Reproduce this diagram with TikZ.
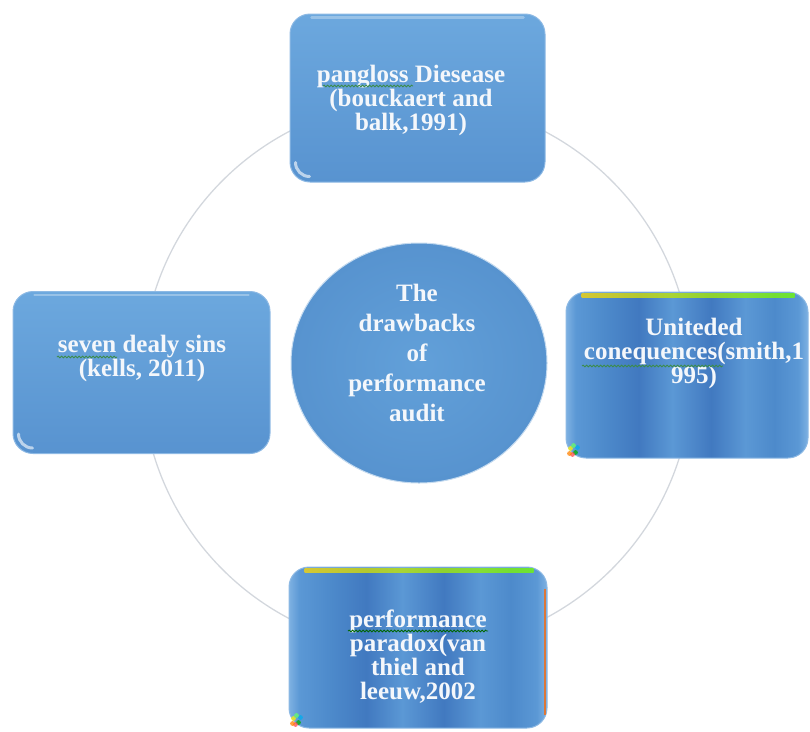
\documentclass[tikz,border=0pt]{standalone}
\usepackage{fontspec}
\setmainfont{Liberation Serif}
\usetikzlibrary{shapes.geometric,decorations.pathmorphing}
\definecolor{boxtop}{HTML}{6CA8DE}
\definecolor{boxbot}{HTML}{5893D0}
\definecolor{boxedge}{HTML}{8DB9E4}
\definecolor{ringc}{HTML}{D3D7DD}
\definecolor{sA}{HTML}{7EB1E2}
\definecolor{sB}{HTML}{5B98D5}
\definecolor{sC}{HTML}{4D8ACB}
\definecolor{sD}{HTML}{4179C0}
\definecolor{circin}{HTML}{62A0D9}
\definecolor{circout}{HTML}{5793CF}
\definecolor{circedge}{HTML}{C4DAEF}
\definecolor{txtc}{HTML}{F4F7FB}
\definecolor{squig}{HTML}{3C8C4A}
\pgfdeclarehorizontalshading{stripes}{100bp}{color(0bp)=(sA); color(25bp)=(sA); color(27bp)=(sB); color(33bp)=(sC); color(40bp)=(sD); color(47bp)=(sB); color(55bp)=(sD); color(62bp)=(sB); color(68bp)=(sC); color(73bp)=(sB); color(75bp)=(sA); color(100bp)=(sA)}
\tikzset{
  box/.style={rounded corners=20pt, draw=boxedge, line width=1pt, minimum width=#1, inner sep=0pt},
  plainbox/.style={box=#1, top color=boxtop, bottom color=boxbot},
  stripebox/.style={box=#1, shading=stripes},
  txt/.style={text=txtc, font=\bfseries\fontsize{25}{24}\selectfont, align=center, inner sep=0pt, anchor=north},
  ctxt/.style={text=txtc, font=\bfseries\fontsize{25}{30}\selectfont, align=center, inner sep=0pt, anchor=north},
  squiggle/.style={draw=squig, line width=0.8pt, decorate, decoration={snake, amplitude=0.9pt, segment length=3.5pt}},
  glint/.style={draw=white, line width=3pt, opacity=0.6, line cap=round},
  highlight/.style={draw=white, line width=2.5pt, opacity=0.3, line cap=round},
  topstrip/.style={left color=yellow!70!orange, right color=green!55!yellow, opacity=0.75},
}
\begin{document}
\begin{tikzpicture}[x=1pt,y=-1pt]
\useasboundingbox (0,0) rectangle (810,731);
% ring
\node[circle, draw=ringc, line width=1.3pt, minimum size=550pt, inner sep=0pt] (ring) at (417,375) {};
% boxes
\node[plainbox=255pt, minimum height=168pt] (top) at (417.5,98) {};
\node[plainbox=257pt, minimum height=162pt] (left) at (141.5,372.5) {};
\node[stripebox=242pt, minimum height=166pt] (right) at (687,375) {};
\node[stripebox=258pt, minimum height=161pt] (bottom) at (418,647.5) {};
% glints and highlights
\foreach \b in {top,left}{
  \draw[glint] ([xshift=6pt,yshift=20pt]\b.south west) arc[start angle=180, end angle=270, radius=14pt];
  \draw[highlight] ([xshift=22pt,yshift=-4pt]\b.north west) -- ([xshift=-22pt,yshift=-4pt]\b.north east);
}
% coloured edges on the two striped boxes
\shade[topstrip] ([xshift=16pt,yshift=-2pt]right.north west) rectangle ([xshift=-14pt,yshift=-6pt]right.north east);
\shade[topstrip] ([xshift=16pt,yshift=-2pt]bottom.north west) rectangle ([xshift=-14pt,yshift=-6pt]bottom.north east);
\draw[orange!80!red, line width=2pt, opacity=0.75] ([xshift=-3pt,yshift=-22pt]bottom.north east) -- ([xshift=-3pt,yshift=14pt]bottom.south east);
\foreach \c/\dx/\dy in {yellow/5/10, green!70!black/10/6, red!70/7/4, cyan/12/11, orange/4/5, green!60/8/13}{
  \fill[\c, opacity=0.75] ([xshift=\dx pt,yshift=\dy pt]right.south west) circle (2.4pt);
  \fill[\c, opacity=0.75] ([xshift=\dx pt,yshift=\dy pt]bottom.south west) circle (2.4pt);
}
% centre
\node[ellipse, draw=circedge, line width=1pt, inner color=circin, outer color=circout, minimum width=256pt, minimum height=240pt] (centre) at (419,363) {};
% texts
\node[txt] (ttop) at (411,65) {pangloss Diesease\\(bouckaert and\\balk,1991)};
\node[txt] (tleft) at (142,335) {seven dealy sins\\(kells, 2011)};
\node[txt] (tright) at (694,318) {Uniteded\\conequences(smith,1\\995)};
\node[txt] (tbottom) at (418,610) {performance\\paradox(van\\thiel and\\leeuw,2002};
\node[ctxt] (tcentre) at (417,284) {The\\drawbacks\\of\\performance\\audit};
% spell-check squiggles
\draw[squiggle] (323,86) -- (413,86);
\draw[squiggle] (57,357) -- (117,357);
\draw[squiggle] (582,366) -- (723,366);
\draw[squiggle, draw=black!60!green] (348,631) -- (488,631);
\end{tikzpicture}
\end{document}
